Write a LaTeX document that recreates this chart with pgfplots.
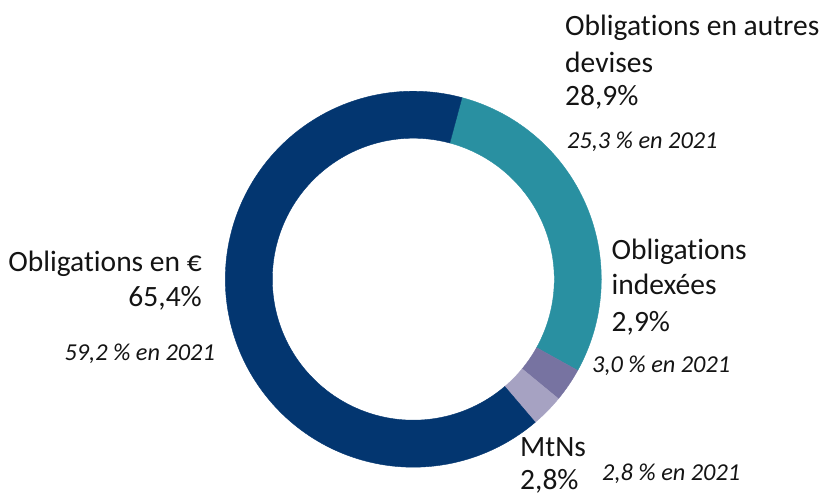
\documentclass[border=0pt]{standalone}
\usepackage{fontspec}
\setmainfont{Carlito}[Ligatures={NoCommon}]
\usepackage{pgfplots}
\pgfplotsset{compat=1.18}
\usepackage{pgfplotstable}
\usepgfplotslibrary{fillbetween}

\definecolor{cNavy}{RGB}{3,54,112}
\definecolor{cTeal}{RGB}{41,144,161}
\definecolor{cPurple}{RGB}{119,115,161}
\definecolor{cLav}{RGB}{166,162,194}
\definecolor{cText}{RGB}{20,20,20}

\pgfplotstableread{
name value
autres 28.9
indexees 2.9
mtns 2.8
euro 65.4
}\shares

\begin{document}
\begin{tikzpicture}
\pgfmathsetmacro\aO{15}
\pgfplotstablegetelem{0}{value}\of\shares \pgfmathsetmacro\aA{\aO+3.6*\pgfplotsretval}
\pgfplotstablegetelem{1}{value}\of\shares \pgfmathsetmacro\aB{\aA+3.6*\pgfplotsretval}
\pgfplotstablegetelem{2}{value}\of\shares \pgfmathsetmacro\aC{\aB+3.6*\pgfplotsretval}
\pgfplotstablegetelem{3}{value}\of\shares \pgfmathsetmacro\aD{\aC+3.6*\pgfplotsretval}
\def\cx{413.3}\def\cy{279.2}\def\Rout{188}\def\Rin{141}
\begin{axis}[hide axis, scale only axis, width=824pt, height=493pt,
  xmin=0, xmax=824, ymin=0, ymax=493, y dir=reverse, clip=false]
\coordinate (C1) at (axis cs:0,0);
\coordinate (C2) at (axis cs:824,493);
% Obligations en autres devises
\addplot[name path=o1, draw=none, domain=\aO:\aA, samples=80, variable=\t] ({\cx+\Rout*sin(\t)},{\cy-\Rout*cos(\t)});
\addplot[name path=i1, draw=none, domain=\aO:\aA, samples=80, variable=\t] ({\cx+\Rin*sin(\t)},{\cy-\Rin*cos(\t)});
\addplot[fill=cTeal, draw=cTeal, line width=0.4pt] fill between[of=o1 and i1];
% Obligations indexees
\addplot[name path=o2, draw=none, domain=\aA:\aB, samples=15, variable=\t] ({\cx+\Rout*sin(\t)},{\cy-\Rout*cos(\t)});
\addplot[name path=i2, draw=none, domain=\aA:\aB, samples=15, variable=\t] ({\cx+\Rin*sin(\t)},{\cy-\Rin*cos(\t)});
\addplot[fill=cPurple, draw=cPurple, line width=0.4pt] fill between[of=o2 and i2];
% MtNs
\addplot[name path=o3, draw=none, domain=\aB:\aC, samples=15, variable=\t] ({\cx+\Rout*sin(\t)},{\cy-\Rout*cos(\t)});
\addplot[name path=i3, draw=none, domain=\aB:\aC, samples=15, variable=\t] ({\cx+\Rin*sin(\t)},{\cy-\Rin*cos(\t)});
\addplot[fill=cLav, draw=cLav, line width=0.4pt] fill between[of=o3 and i3];
% Obligations en euros
\addplot[name path=o4, draw=none, domain=\aC:\aD, samples=160, variable=\t] ({\cx+\Rout*sin(\t)},{\cy-\Rout*cos(\t)});
\addplot[name path=i4, draw=none, domain=\aC:\aD, samples=160, variable=\t] ({\cx+\Rin*sin(\t)},{\cy-\Rin*cos(\t)});
\addplot[fill=cNavy, draw=cNavy, line width=0.4pt] fill between[of=o4 and i4];

\tikzset{big/.style={inner sep=0, text=cText, font=\fontsize{29.5}{35}\selectfont},
         small/.style={inner sep=0, text=cText, font=\fontsize{24.3}{28}\selectfont\itshape}}
\node[big, anchor=base west] at (axis cs:565,36) {Obligations en autres};
\node[big, anchor=base west] at (axis cs:565,72.5) {devises};
\node[big, anchor=base west] at (axis cs:565,106) {28,9\%};
\node[small, anchor=base west] at (axis cs:567,149) {25,3 \% en 2021};

\node[big, anchor=base east] at (axis cs:202,272) {Obligations en €};
\node[big, anchor=base east] at (axis cs:202,307) {65,4\%};
\node[small, anchor=base east] at (axis cs:215,360) {59,2 \% en 2021};

\node[big, anchor=base west] at (axis cs:611.5,260) {Obligations};
\node[big, anchor=base west] at (axis cs:611.5,295) {indexées};
\node[big, anchor=base west] at (axis cs:611.5,332) {2,9\%};
\node[small, anchor=base west] at (axis cs:592,372.5) {3,0 \% en 2021};

\node[big, anchor=base west] at (axis cs:520,456) {MtNs};
\node[big, anchor=base west] at (axis cs:520,489) {2,8\%};
\node[small, anchor=base west] at (axis cs:602,480.5) {2,8 \% en 2021};
\end{axis}
\pgfresetboundingbox
\useasboundingbox (C1) rectangle (C2);
\end{tikzpicture}
\end{document}
